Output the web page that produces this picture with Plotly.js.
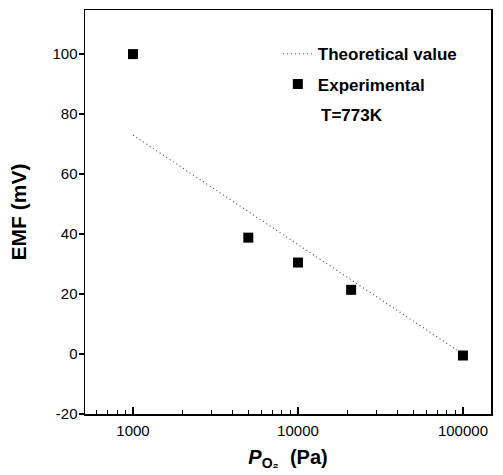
<!DOCTYPE html>
<html>
<head>
<meta charset="utf-8">
<script src="https://cdn.plot.ly/plotly-3.0.1.min.js"></script>
<style>html,body{margin:0;padding:0;background:#fff;}#chart{width:503px;height:475px;}</style>
</head>
<body>
<div id="chart"></div>
<script>
// Theoretical line
const theoPressure = [1000, 100000];
const theoEMF = [73, 0];
// Experimental points
const expPressure = [1000, 5000, 10000, 21000, 100000];
const expEMF = [100, 38.8, 30.5, 21.4, -0.5];
const xTickVals = [1000, 10000, 100000];
const xTickText = ['1000', '10000', '100000'];
const yTickVals = [-20, 0, 20, 40, 60, 80, 100];
const yTickText = ['-20', '0', '20', '40', '60', '80', '100'];

const fontFam = '"Liberation Sans", Arial, sans-serif';

const traces = [
  {
    x: theoPressure, y: theoEMF, type: 'scatter', mode: 'lines',
    name: 'Theoretical value',
    line: {color: '#444', width: 1.1, dash: '1px,3px'},
    legendgroup: 'a'
  },
  {
    x: expPressure, y: expEMF, type: 'scatter', mode: 'markers',
    name: 'Experimental',
    marker: {symbol: 'square', size: 10, color: '#000'},
    legendgroup: 'b'
  }
];

const layout = {
  width: 503, height: 475,
  margin: {l: 85, r: 12, t: 10, b: 61},
  paper_bgcolor: '#fff', plot_bgcolor: '#fff',
  font: {family: fontFam, color: '#000', size: 15},
  showlegend: true,
  legend: {
    x: 0.475, y: 0.935, xanchor: 'left', yanchor: 'top',
    bgcolor: 'rgba(0,0,0,0)', borderwidth: 0,
    font: {family: fontFam, size: 17, color: '#000', weight: 'bold'},
    tracegroupgap: 5, traceorder: 'grouped'
  },
  xaxis: {
    type: 'log', range: [2.709, 5.17],
    tickmode: 'array', tickvals: xTickVals, ticktext: xTickText,
    ticks: 'inside', ticklen: 7, tickwidth: 1.2, tickcolor: '#000',
    minor: {ticks: 'inside', ticklen: 4, tickwidth: 1, tickcolor: '#000', dtick: 'D1', showgrid: false},
    showline: true, linecolor: '#000', linewidth: 1.5, mirror: true,
    showgrid: false, zeroline: false,
    tickfont: {size: 15}, ticklabelstandoff: 2,
    title: {text: '<b><i>P</i></b><sub><b>O₂</b></sub>  <b>(Pa)</b>', font: {size: 20}, standoff: 12}
  },
  yaxis: {
    range: [-20, 114.7],
    tickmode: 'array', tickvals: yTickVals, ticktext: yTickText,
    ticks: 'outside', ticklen: 5, tickwidth: 1.2, tickcolor: '#000',
    showline: true, linecolor: '#000', linewidth: 1.5, mirror: true,
    showgrid: false, zeroline: false,
    tickfont: {size: 15}, ticklabelstandoff: -2,
    title: {text: '<b>EMF (mV)</b>', font: {size: 21}, standoff: 20}
  },
  annotations: [
    {
      xref: 'paper', yref: 'paper', x: 0.576, y: 0.74,
      xanchor: 'left', yanchor: 'middle', showarrow: false, align: 'left',
      text: 'T=773K', font: {family: fontFam, size: 17, color: '#000', weight: 'bold'}
    }
  ]
};

Plotly.newPlot('chart', traces, layout, {displayModeBar: false, staticPlot: true});
</script>
</body>
</html>
